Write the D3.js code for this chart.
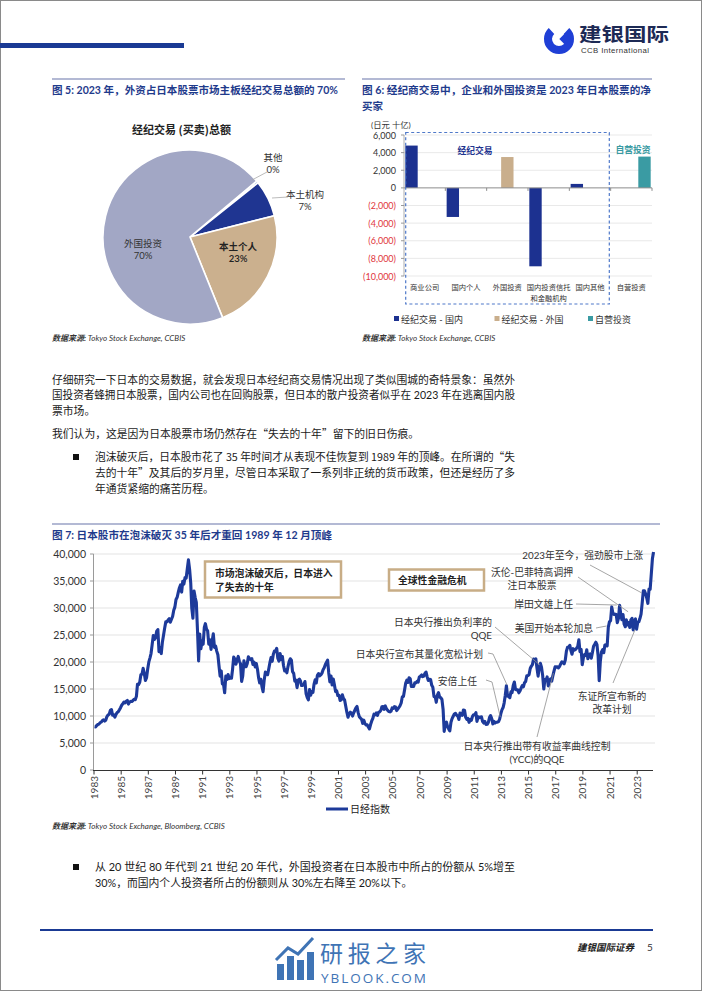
<!DOCTYPE html>
<html><head><meta charset="utf-8">
<script src="https://cdn.jsdelivr.net/npm/d3@7"></script>
<style>body{margin:0;background:#fff}svg{display:block}</style>
</head><body>
<svg id="page" width="702" height="991"></svg>
<script>
// ---------------- DATA ----------------
const pieLabels = ["其他", "本土机构", "本土个人", "外国投资"];
const pieShares = [0.4, 6.8, 22.8, 70.0];

const barCategories = ["商业公司", "国内个人", "外国投资", "国内投资信托|和金融机构", "国内其他", "自营投资"];
const barSeries = ["经纪交易 - 国内", "经纪交易 - 外国", "自营投资"];
const domesticValues = [4800, -3300, null, -8900, 450, null];
const foreignValues = [null, null, 3500, null, null, null];
const propValues = [null, null, null, null, null, 3550];
const barTicks = [-10000, -8000, -6000, -4000, -2000, 0, 2000, 4000, 6000];

const nikkeiStartYear = 1983;
const nikkeiMonthly = [
 8020,7990,8240,8420,8500,8780,8860,9160,9300,9050,9250,9890,
 10200,10350,11050,11190,10150,10210,9800,10300,10650,10800,11150,11540,
 11990,12290,12580,12430,12740,12880,12210,12590,12700,12680,12860,13110,
 13020,13640,15860,15820,16240,17650,17740,18820,17850,16590,17110,18700,
 20020,20770,21570,23270,24900,24180,24490,25720,26010,21900,22690,21560,
 23720,24990,26260,27430,27420,27770,28010,27370,27920,28420,29580,30160,
 31580,31990,32840,33710,34270,32950,34950,34430,35640,35550,37270,38920,
 37190,34590,29980,28100,33130,31940,31040,25980,20200,25190,22460,23850,
 23290,26410,27100,26110,25790,23290,24120,22340,23920,25220,22690,22980,
 22020,21340,19350,17390,18350,15950,15910,14300,17400,16770,17680,16930,
 17020,17000,18590,20920,20550,19590,20380,21030,20110,19700,16410,17420,
 20230,19110,19110,19730,20970,20640,20450,20630,19560,19990,19080,19720,
 18650,17050,16140,16810,15440,14500,16680,18120,17910,17650,18740,19870,
 20810,20130,21410,22040,21960,22530,20690,20170,21560,20470,21020,19360,
 18330,18560,18000,19150,20070,20600,20330,18230,17890,16460,16630,15260,
 16630,16830,16530,15640,15670,15830,16380,14110,13410,13000,14880,13840,
 14500,14370,15840,16700,16110,17530,17860,17440,17610,17940,18560,18930,
 19540,19960,20340,17970,16330,17410,15730,16860,15750,14540,14650,13790,
 13840,12880,12990,13930,13260,12970,11860,10710,9770,10370,10700,10540,
 9990,10590,11020,11490,11760,10620,9880,9620,9380,8640,9220,8580,
 8340,8360,7970,7610,8420,9080,9560,10340,10220,10560,10100,10680,
 10780,11040,11720,11760,11240,11860,11330,11080,10820,10770,10900,11490,
 11390,11740,11670,11010,11280,11580,11900,12410,13570,13610,14870,16110,
 16650,16210,17060,16910,15470,15510,15460,16140,16130,16400,16270,17230,
 17380,17600,17290,17400,17880,18140,17250,16570,16790,16740,15680,15310,
 13590,13600,12530,13850,14340,13480,13380,13070,11260,7160,8510,8860,
 7990,7570,7250,8830,9520,9960,10360,10490,10130,10030,9350,10550,
 10200,10130,11090,11060,9770,9380,9540,8820,9370,9200,9940,10230,
 10240,10620,9000,9850,9690,9820,9830,8960,8700,8990,8430,8460,
 8800,9720,10080,9520,8540,9010,8700,8840,8870,8930,9450,10400,
 11140,11560,12400,13860,15600,13680,13670,13390,14460,14330,15660,16290,
 14910,14840,14830,14300,14630,15160,15620,15420,16170,16410,17460,17450,
 17670,18800,19210,19520,20560,20240,20590,18890,17390,19080,19750,19030,
 17520,15000,16760,16670,17230,15580,16570,16890,16450,17430,18310,19110,
 19040,19120,18910,19200,19650,20030,19930,19650,20360,22010,22720,22760,
 23100,22070,21450,22470,22200,22300,22550,22870,24120,21920,22350,19500,
 20770,21390,21210,22260,20600,21280,21520,20700,21760,22930,23290,23660,
 23210,21140,16550,20190,21880,22290,21710,23140,23190,22980,26430,27440,
 27660,30200,29180,28810,28860,28790,27280,28090,30500,28890,27820,28790,
 27000,26530,27820,26850,27280,26390,27800,28090,25940,27590,27970,26090,
 27330,27450,28040,28860,30890,33190,33170,32620,31860,30860,33490,33460,
 36290,39170,40370
];
const yTicksLine = [0,5000,10000,15000,20000,25000,30000,35000,40000];
const xTickYears = d3.range(1983, 2024, 2);

const annotations = [
 {lines:["2023年至今，强劲股市上涨"], tx:643, ty:559, anchor:"end", from:[[590,565]], date:"2023-05", value:32800},
 {lines:["沃伦-巴菲特高调押","注日本股票"], tx:532, ty:576, anchor:"middle", from:[[578,577]], date:"2022-05", value:29300},
 {lines:["岸田文雄上任"], tx:573, ty:608, anchor:"end", from:[[576,604]], date:"2021-07", value:30550},
 {lines:["美国开始本轮加息"], tx:593, ty:632, anchor:"end", from:[[596,628]], date:"2020-10", value:26670},
 {lines:["东证所宣布新的","改革计划"], tx:612, ty:700, anchor:"middle", from:[[613,683]], date:"2022-11", value:25930},
 {lines:["日本央行推出负利率的","QQE"], tx:492, ty:626, anchor:"end", from:[[495,627]], date:"2015-11", value:19440},
 {lines:["日本央行宣布其量化宽松计划"], tx:483, ty:658, anchor:"end", from:[[488,653],[493,654]], date:"2013-06", value:15740},
 {lines:["安倍上任"], tx:477, ty:685, anchor:"end", from:[[486,680],[492,682]], date:"2012-12", value:9800},
 {lines:["日本央行推出带有收益率曲线控制","(YCC)的QQE"], tx:537, ty:750, anchor:"middle", from:[[537,737]], date:"2016-11", value:17960}
];

// ---------------- DRAW ----------------
const CN = "'Noto Sans CJK SC', sans-serif";
const MIX = "Lato, 'Noto Sans CJK SC', sans-serif";
const svg = d3.select("#page");
svg.append("rect").attr("x",0).attr("y",0).attr("width",702).attr("height",991).attr("fill","#fff");
svg.append("rect").attr("x",0.5).attr("y",0.5).attr("width",701).attr("height",990).attr("fill","none").attr("stroke","#8a8a8a");

// header
svg.append("rect").attr("x",0).attr("y",43).attr("width",184).attr("height",5).attr("fill","#1a3a94");
const logo = svg.append("g");
logo.append("path").attr("d", d3.arc()({innerRadius:7, outerRadius:15, startAngle:0.75, endAngle:2*Math.PI-0.75}))
  .attr("transform","translate(559,39)").attr("fill","#1f3fd6");
logo.append("rect").attr("x",-4).attr("y",-4).attr("width",8).attr("height",8).attr("fill","#1f3fd6")
  .attr("transform","translate(565,39) rotate(45)");
svg.append("text").attr("x",579).attr("y",41).attr("font-family",CN).attr("font-weight",700).attr("font-size",18.5)
  .attr("fill","#1d2a55").attr("textLength",90).attr("lengthAdjust","spacingAndGlyphs").text("建银国际");
svg.append("text").attr("x",581).attr("y",52.5).attr("font-family","Arial, 'Liberation Sans', sans-serif").attr("font-size",7.8)
  .attr("fill","#333").attr("textLength",68).text("CCB International");

function titleLine(x1,x2,y){ svg.append("line").attr("x1",x1).attr("x2",x2).attr("y1",y).attr("y2",y).attr("stroke","#9aa2c6").attr("stroke-width",1.6); }
function title(txt,x,y,len){ const t=svg.append("text").attr("x",x).attr("y",y).attr("font-family",MIX).attr("font-weight",700)
  .attr("font-size",10.5).attr("fill","#1f3b8c").text(txt); if(len) t.attr("textLength",len).attr("lengthAdjust","spacingAndGlyphs"); }
function source(txt,x,y){ const t=svg.append("text").attr("x",x).attr("y",y).attr("font-size",8).attr("font-style","italic").attr("fill","#333").attr("font-family",MIX);
  t.append("tspan").attr("font-weight",700).text("数据来源: "); t.append("tspan").text(txt); }

titleLine(52,345,79); titleLine(362,652,79);
title("图 5: 2023 年，外资占日本股票市场主板经纪交易总额的 70%",52,94,286);
title("图 6: 经纪商交易中，企业和外国投资是 2023 年日本股票的净",362,94,289);
title("买家",362,110);

// ---- Pie ----
svg.append("text").attr("x",181.5).attr("y",134).attr("text-anchor","middle").attr("font-family",CN).attr("font-weight",700)
  .attr("font-size",11).attr("fill","#222").text("经纪交易 (买卖)总额");
const pieColors = d3.scaleOrdinal().domain(pieLabels).range(["#8fb1de","#1f3591","#cbb08e","#a2a7c5"]);
const start = 50*Math.PI/180;
const arcs = d3.pie().sort(null).startAngle(start).endAngle(start+2*Math.PI)(pieShares);
const pg = svg.append("g").attr("transform","translate(190,237)");
pg.selectAll("path").data(arcs).join("path").attr("d",d3.arc().innerRadius(0).outerRadius(87))
  .attr("fill",(d,i)=>pieColors(pieLabels[i])).attr("stroke","#fff").attr("stroke-width",1.6);
const pctFmt = v => Math.round(v) + "%";
const pieLabelPos = [ {x:273,y:161,out:[[252,180],[267,172]]}, {x:305,y:198,out:[[272,198],[288,197]]},
  {x:238,y:250,bold:true}, {x:143,y:247} ];
pieLabelPos.forEach((p,i)=>{
  const t = svg.append("text").attr("x",p.x).attr("y",p.y).attr("text-anchor","middle").attr("font-family",MIX)
    .attr("font-size",9.5).attr("fill", p.bold? "#222":"#333").attr("font-weight", p.bold?600:400);
  t.append("tspan").attr("x",p.x).text(pieLabels[i]);
  t.append("tspan").attr("x",p.x).attr("dy",12).text(pctFmt(pieShares[i]));
  if(p.out) svg.append("polyline").attr("points",p.out.map(q=>q.join(",")).join(" ")).attr("fill","none").attr("stroke","#aaa").attr("stroke-width",0.8);
});
source("Tokyo Stock Exchange, CCBIS",52,341);

// ---- Bars ----
const xb = d3.scaleBand().domain(barCategories).range([404,652]).padding(0);
const xs = d3.scaleBand().domain(barSeries).range([0,xb.bandwidth()]).paddingInner(0.06).paddingOuter(0.1);
const yb = d3.scaleLinear().domain([-10000,6000]).range([276,135]);
const barColors = d3.scaleOrdinal().domain(barSeries).range(["#1c3190","#c9ae8c","#3a9ba3"]);
const bg = svg.append("g");
bg.selectAll(".g").data(barTicks.filter(t=>t!==0)).join("line").attr("x1",404).attr("x2",652)
  .attr("y1",d=>yb(d)).attr("y2",d=>yb(d)).attr("stroke","#e3e3e3").attr("stroke-width",0.8);
bg.append("line").attr("x1",404).attr("x2",404).attr("y1",yb(6000)).attr("y2",yb(-10000)).attr("stroke","#999").attr("stroke-width",0.8);
bg.selectAll(".yt").data(barTicks).join("line").attr("x1",401).attr("x2",404).attr("y1",d=>yb(d)).attr("y2",d=>yb(d)).attr("stroke","#999");
const numFmt = d3.format(",");
bg.selectAll(".yl").data(barTicks).join("text").attr("x",396).attr("y",d=>yb(d)+3.5).attr("text-anchor","end")
  .attr("font-family",MIX).attr("font-size",9).attr("fill",d=>d<0?"#e0353d":"#333")
  .text(d=> d<0 ? "(" + numFmt(-d) + ")" : numFmt(d));
svg.append("text").attr("x",371).attr("y",127.5).attr("font-family",MIX).attr("font-size",8.3).attr("fill","#333").text("(日元 十亿)");
const seriesVals = [domesticValues, foreignValues, propValues];
barSeries.forEach((s,si)=>{
  barCategories.forEach((c,ci)=>{
    const v = seriesVals[si][ci]; if(v==null) return;
    bg.append("rect").attr("x",xb(c)+xs(s)).attr("width",xs.bandwidth())
      .attr("y",yb(Math.max(0,v))).attr("height",Math.abs(yb(v)-yb(0))).attr("fill",barColors(s));
  });
});
bg.append("line").attr("x1",404).attr("x2",652).attr("y1",yb(0)).attr("y2",yb(0)).attr("stroke","#8c8c8c").attr("stroke-width",1);
barCategories.forEach(c=>{ bg.append("line").attr("x1",xb(c)+xb.bandwidth()).attr("x2",xb(c)+xb.bandwidth()).attr("y1",yb(0)).attr("y2",yb(0)+3).attr("stroke","#8c8c8c"); });
barCategories.forEach(c=>{
  const parts = c.split("|"); const cx = xb(c)+xb.bandwidth()/2;
  const t = bg.append("text").attr("text-anchor","middle").attr("font-family",CN).attr("font-size",7.3).attr("fill","#333");
  parts.forEach((p,i)=> t.append("tspan").attr("x",cx).attr("y",290+i*10.5).text(p));
});
svg.append("rect").attr("x",405.7).attr("y",132.5).attr("width",609.3-405.7).attr("height",304-132.5)
  .attr("fill","none").attr("stroke","#4f79c9").attr("stroke-width",1.2).attr("stroke-dasharray","3,2.5");
svg.append("text").attr("x",475).attr("y",153.5).attr("text-anchor","middle").attr("font-family",CN).attr("font-weight",700)
  .attr("font-size",8.8).attr("fill","#1f3590").text("经纪交易");
svg.append("text").attr("x",633).attr("y",152.5).attr("text-anchor","middle").attr("font-family",CN).attr("font-weight",700)
  .attr("font-size",8.8).attr("fill","#3a9ba3").text("自营投资");
const legX = [394,494.5,588];
barSeries.forEach((s,i)=>{
  svg.append("rect").attr("x",legX[i]).attr("y",316).attr("width",5).attr("height",5).attr("fill",barColors(s));
  svg.append("text").attr("x",legX[i]+7).attr("y",322.5).attr("font-family",MIX).attr("font-size",9).attr("fill","#333").text(s);
});
source("Tokyo Stock Exchange, CCBIS",362,341);

// ---- Body text ----
function para(lines, x, y0, dy){
  lines.forEach((l,i)=>{
    const hasQuote = /[“”]/.test(l.t);
    const t = svg.append("text").attr("x",x).attr("y",y0+i*dy).attr("font-family",hasQuote?CN:MIX).attr("font-size",10.8).attr("fill","#1a1a1a").text(l.t);
    if(l.w) t.attr("textLength",l.w).attr("lengthAdjust","spacingAndGlyphs");
  });
}
para([{t:"仔细研究一下日本的交易数据，就会发现日本经纪商交易情况出现了类似围城的奇特景象：虽然外",w:463},
      {t:"国投资者蜂拥日本股票，国内公司也在回购股票，但日本的散户投资者似乎在 2023 年在逃离国内股",w:463},
      {t:"票市场。"}],52,383.5,15.5);
para([{t:"我们认为，这是因为日本股票市场仍然存在“失去的十年”留下的旧日伤痕。"}],52,437.5,15.5);
svg.append("rect").attr("x",73).attr("y",454).attr("width",6).attr("height",6).attr("fill","#111");
para([{t:"泡沫破灭后，日本股市花了 35 年时间才从表现不佳恢复到 1989 年的顶峰。在所谓的“失",w:420},
      {t:"去的十年”及其后的岁月里，尽管日本采取了一系列非正统的货币政策，但还是经历了多",w:420},
      {t:"年通货紧缩的痛苦历程。"}],95,461,15.8);

// ---- Line chart ----
titleLine(52,660,524);
title("图 7: 日本股市在泡沫破灭 35 年后才重回 1989 年 12 月顶峰",52,539,280);
const x = d3.scaleTime().domain([new Date(1983,0,1), new Date(2024,2,1)]).range([94,653]);
const y = d3.scaleLinear().domain([0,40000]).range([770,554]);
const lg = svg.append("g");
lg.selectAll(".grid").data(yTicksLine.filter(d=>d>0)).join("line").attr("x1",93).attr("x2",655)
  .attr("y1",d=>y(d)).attr("y2",d=>y(d)).attr("stroke","#dcdcdc").attr("stroke-width",0.8);
lg.append("line").attr("x1",93.5).attr("x2",93.5).attr("y1",y(40000)).attr("y2",y(0)).attr("stroke","#9a9a9a");
lg.selectAll(".yt").data(yTicksLine).join("line").attr("x1",90).attr("x2",93.5).attr("y1",d=>y(d)).attr("y2",d=>y(d)).attr("stroke","#9a9a9a");
lg.selectAll(".yl").data(yTicksLine).join("text").attr("x",86).attr("y",d=>y(d)+4).attr("text-anchor","end")
  .attr("font-family",MIX).attr("font-size",10.5).attr("fill","#333").text(d=>numFmt(d));
// boxes
svg.append("rect").attr("x",205).attr("y",561.5).attr("width",136).attr("height",36).attr("fill","#fff").attr("stroke","#c8ad86").attr("stroke-width",2.5);
svg.append("text").attr("x",215).attr("y",577).attr("font-family",CN).attr("font-weight",700).attr("font-size",9.8).attr("fill","#222").text("市场泡沫破灭后，日本进入");
svg.append("text").attr("x",215).attr("y",590.5).attr("font-family",CN).attr("font-weight",700).attr("font-size",9.8).attr("fill","#222").text("了失去的十年");
svg.append("rect").attr("x",389).attr("y",569.5).attr("width",95).attr("height",21).attr("fill","#fff").attr("stroke","#c8ad86").attr("stroke-width",2.5);
svg.append("text").attr("x",398).attr("y",584).attr("font-family",CN).attr("font-weight",700).attr("font-size",9.8).attr("fill","#222").text("全球性金融危机");

const pts = nikkeiMonthly.map((v,i)=>({d:new Date(nikkeiStartYear, i, 15), v}));
lg.append("path").datum(pts).attr("d",d3.line().x(p=>x(p.d)).y(p=>y(p.v)))
  .attr("fill","none").attr("stroke","#1d3a9a").attr("stroke-width",3.1).attr("stroke-linejoin","round");

// x axis
lg.append("line").attr("x1",93).attr("x2",653).attr("y1",770.5).attr("y2",770.5).attr("stroke","#333").attr("stroke-width",1.2);
xTickYears.forEach(yr=>{
  const xx = x(new Date(yr,0,1));
  lg.append("line").attr("x1",xx).attr("x2",xx).attr("y1",770.5).attr("y2",774.5).attr("stroke","#333");
  lg.append("text").attr("transform",`translate(${xx+3.6},776) rotate(-90)`).attr("text-anchor","end")
    .attr("font-family",MIX).attr("font-size",10).attr("fill","#444").text(yr);
});

// annotations
const parseM = d3.timeParse("%Y-%m");
annotations.forEach(a=>{
  const tgt = [x(parseM(a.date)), y(a.value)];
  const ptsA = a.from.concat([tgt]);
  svg.append("polyline").attr("points",ptsA.map(p=>p.join(",")).join(" ")).attr("fill","none").attr("stroke","#8f8f8f").attr("stroke-width",0.8);
  const t = svg.append("text").attr("text-anchor",a.anchor).attr("font-family",MIX).attr("font-size",9.8).attr("fill","#333");
  a.lines.forEach((l,i)=> t.append("tspan").attr("x",a.tx).attr("y",a.ty+i*13.3).text(l));
});

// legend
svg.append("line").attr("x1",326).attr("x2",348).attr("y1",809).attr("y2",809).attr("stroke","#1d3a9a").attr("stroke-width",3);
svg.append("text").attr("x",350).attr("y",813).attr("font-family",CN).attr("font-size",10).attr("fill","#222").text("日经指数");
source("Tokyo Stock Exchange, Bloomberg, CCBIS",52,829);

// bottom bullet
svg.append("rect").attr("x",73).attr("y",864).attr("width",6).attr("height",6).attr("fill","#111");
para([{t:"从 20 世纪 80 年代到 21 世纪 20 年代，外国投资者在日本股市中所占的份额从 5%增至",w:420},
      {t:"30%，而国内个人投资者所占的份额则从 30%左右降至 20%以下。"}],95,871,16);

// footer
svg.append("line").attr("x1",40).attr("x2",653).attr("y1",930).attr("y2",930).attr("stroke","#1a3a94").attr("stroke-width",2.2);
svg.append("text").attr("x",577).attr("y",950.5).attr("font-family",CN).attr("font-style","italic").attr("font-weight",700).attr("font-size",9.5).attr("fill","#222").text("建银国际证券");
svg.append("text").attr("x",647).attr("y",950.5).attr("font-family",MIX).attr("font-size",10).attr("fill","#333").text("5");
// watermark
const wm = svg.append("g").attr("fill","#3f74b5");
[[277,964,7,16],[287,956,7,24],[297,960,7,20],[307,952,7,28]].forEach(r=> wm.append("rect").attr("x",r[0]).attr("y",r[1]).attr("width",r[2]).attr("height",r[3]));
wm.append("polyline").attr("points","276,960 288,948 298,954 313,938").attr("fill","none").attr("stroke","#3f74b5").attr("stroke-width",3);
wm.append("text").attr("x",320).attr("y",962).attr("font-family",CN).attr("font-size",23).attr("fill","#3f74b5").attr("textLength",106).text("研报之家");
wm.append("text").attr("x",321).attr("y",983).attr("font-family","'Open Sans', sans-serif").attr("font-size",13.5).attr("fill","#3f74b5").attr("textLength",105).text("YBLOOK.COM");
</script>
</body></html>
